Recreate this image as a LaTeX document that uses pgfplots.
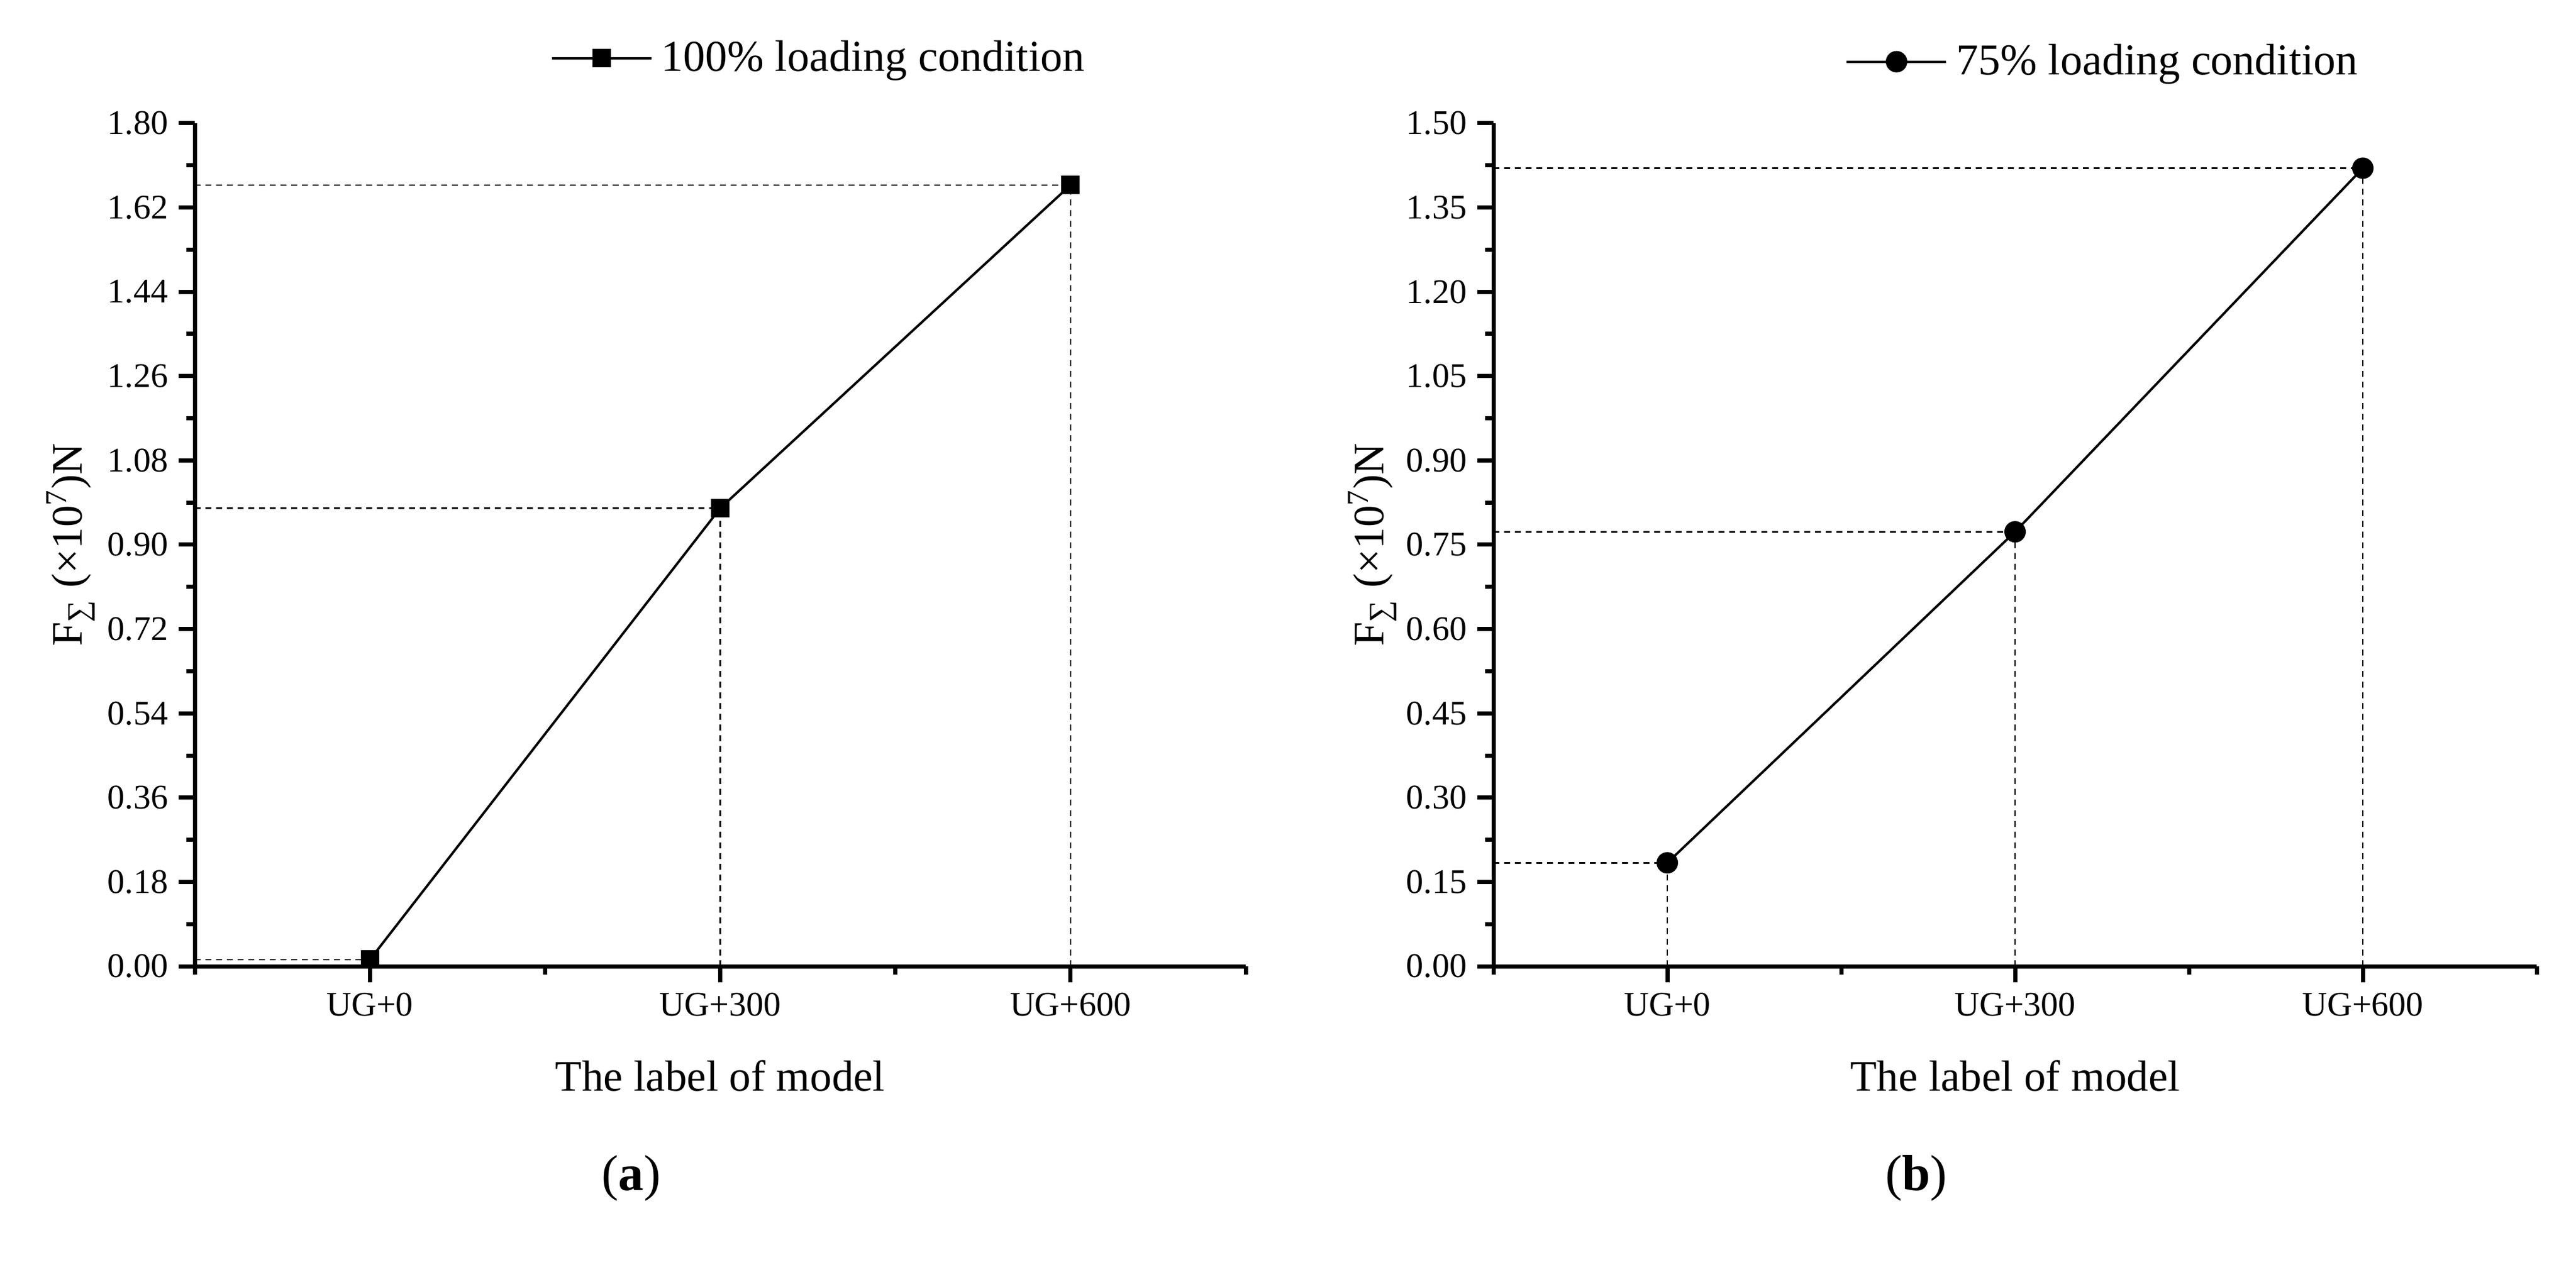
\documentclass[border=0pt]{standalone}
\usepackage{fontspec}
\setmainfont{Liberation Serif}
\usepackage{pgfplots}
\usepackage{pgfplotstable}
\pgfplotsset{compat=1.18}

% values (x = model index: UG+0, UG+300, UG+600)
\pgfplotstableread{
x y
0 0.014
1 0.978
2 1.668
}\datfull
\pgfplotstableread{
x y
0 0.184
1 0.773
2 1.420
}\datpart

\pgfplotsset{
  panel/.style={
    scale only axis, height=283.2pt,
    axis lines*=left, tick align=outside,
    axis line style={line width=1.4pt},
    tick style={black, line width=1.4pt},
    major tick length=5.4pt, minor tick length=2.8pt,
    xmin=-0.5, xmax=2.5, xtick={0,1,2}, minor xtick={-0.5,0.5,1.5,2.5},
    xticklabels={UG+0,UG+300,UG+600},
    ymin=0,
    tick label style={font=\fontsize{11.6}{12}\selectfont},
    /pgf/number format/assume math mode=true,
    yticklabel style={/pgf/number format/.cd, fixed, fixed zerofill, precision=2},
    xlabel={The label of model},
    ylabel={F\textsubscript{∑} (×10\textsuperscript{7})N},
    label style={font=\fontsize{14.6}{16}\selectfont},
    xlabel style={at={(axis description cs:0.5,-0.13)}, anchor=center},
    legend style={draw=none, fill=none, font=\fontsize{14.8}{16}\selectfont,
      anchor=west, inner sep=0pt, column sep=1pt},
    legend image code/.code={
      \draw[mark repeat=2,mark phase=2,#1]
        plot coordinates {(0pt,0pt) (16.7pt,0pt) (33.4pt,0pt)};},
    clip=false,
  },
  guide/.style={black, line width=0.5pt, dash pattern=on 2pt off 1.6pt, forget plot},
}

\begin{document}
\begin{tikzpicture}
\useasboundingbox (0,0) rectangle (865.2pt,428.8pt);

\begin{axis}[panel, at={(65.4pt,104.2pt)}, anchor=south west, width=353pt,
  ymax=1.8,
  ytick={0,0.18,0.36,0.54,0.72,0.90,1.08,1.26,1.44,1.62,1.80},
  minor ytick={0.09,0.27,0.45,0.63,0.81,0.99,1.17,1.35,1.53,1.71},
  ylabel style={at={(axis description cs:-0.118,0.5)}, anchor=center},
  legend style={at={(axis description cs:0.338,1.077)}}]
  \addplot[guide] coordinates {(-0.5,0.014) (0,0.014)};
  \addplot[guide] coordinates {(-0.5,0.978) (1,0.978)};
  \addplot[guide] coordinates {(-0.5,1.668) (2,1.668)};
  \addplot[guide, ycomb] table {\datfull};
  \addplot[black, line width=0.8pt, mark=square*, mark size=2.7pt,
    mark options={solid, fill=black}] table {\datfull};
  \addlegendentry{100\% loading condition}
\end{axis}

\begin{axis}[panel, at={(501.6pt,104.2pt)}, anchor=south west, width=350.4pt,
  ymax=1.5,
  ytick={0,0.15,0.30,0.45,0.60,0.75,0.90,1.05,1.20,1.35,1.50},
  minor ytick={0.075,0.225,0.375,0.525,0.675,0.825,0.975,1.125,1.275,1.425},
  ylabel style={at={(axis description cs:-0.116,0.5)}, anchor=center},
  legend style={at={(axis description cs:0.337,1.073)}}]
  \addplot[guide] coordinates {(-0.5,0.184) (0,0.184)};
  \addplot[guide] coordinates {(-0.5,0.773) (1,0.773)};
  \addplot[guide] coordinates {(-0.5,1.420) (2,1.420)};
  \addplot[guide, ycomb] table {\datpart};
  \addplot[black, line width=0.8pt, mark=*, mark size=3.2pt,
    mark options={solid, fill=black}] table {\datpart};
  \addlegendentry{75\% loading condition}
\end{axis}

\node[font=\fontsize{17}{18}\selectfont] at (212pt,33pt) {(\textbf{a})};
\node[font=\fontsize{17}{18}\selectfont] at (643.6pt,33pt) {(\textbf{b})};
\end{tikzpicture}
\end{document}
